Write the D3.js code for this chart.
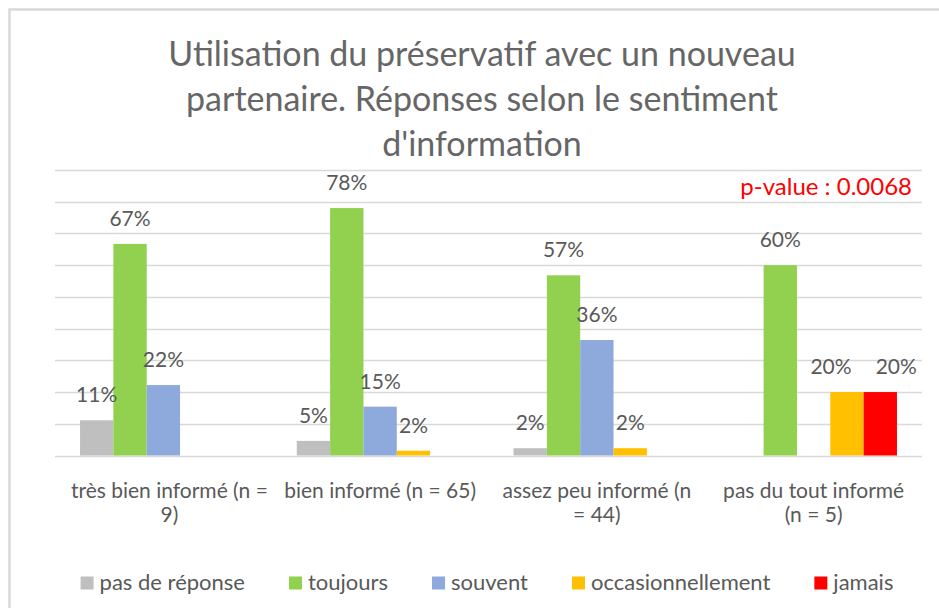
<!DOCTYPE html>
<html>
<head>
<meta charset="utf-8">
<script src="https://cdn.jsdelivr.net/npm/d3@7/dist/d3.min.js"></script>
<style>
  html, body { margin: 0; padding: 0; background: #ffffff; }
  svg { display: block; }
  text { font-family: Lato, "Open Sans", sans-serif; fill: #595959; }
</style>
</head>
<body>
<svg id="chart" width="939" height="608"></svg>
<script>
// ---- data ----
const titleLines = ["Utilisation du préservatif avec un nouveau", "partenaire. Réponses selon le sentiment", "d'information"];
const categories = ["très bien informé (n = 9)", "bien informé (n = 65)", "assez peu informé (n = 44)", "pas du tout informé (n = 5)"];
const categoryLines = [["très bien informé (n =", "9)"], ["bien informé (n = 65)"], ["assez peu informé (n", "= 44)"], ["pas du tout informé", "(n = 5)"]];
const seriesNames = ["pas de réponse", "toujours", "souvent", "occasionnellement", "jamais"];
const pasDeReponse = [0.111, 0.046, 0.023, null];
const toujours = [0.667, 0.78, 0.568, 0.60];
const souvent = [0.222, 0.154, 0.364, null];
const occasionnellement = [null, 0.015, 0.023, 0.20];
const jamais = [null, null, null, 0.20];
const gridTicks = [0, 0.1, 0.2, 0.3, 0.4, 0.5, 0.6, 0.7, 0.8, 0.9];
const pValueText = "p-value : 0.0068";

const seriesValues = [pasDeReponse, toujours, souvent, occasionnellement, jamais];
const colors = ["#BFBFBF", "#92D050", "#8EA9DB", "#FFC000", "#FF0000"];

// ---- layout ----
const svg = d3.select("#chart");
const plot = { left: 55, right: 922, top: 170, bottom: 455.5 };

// frame
svg.append("rect")
  .attr("x", 9.5).attr("y", 9.5)
  .attr("width", 960).attr("height", 640)
  .attr("fill", "#fff")
  .attr("stroke", "#d9d9d9").attr("stroke-width", 2.5);

const x0 = d3.scaleBand().domain(categories).range([plot.left, plot.right])
  .paddingInner(0.231).paddingOuter(0.1155);
const x1 = d3.scaleBand().domain(seriesNames).range([0, x0.bandwidth()]);
const y = d3.scaleLinear().domain([0, 0.9]).range([plot.bottom, plot.top]);

// gridlines
svg.append("g").selectAll("line").data(gridTicks).join("line")
  .attr("x1", plot.left).attr("x2", plot.right)
  .attr("y1", d => Math.round(y(d)) + 0.5).attr("y2", d => Math.round(y(d)) + 0.5)
  .attr("stroke", "#d9d9d9").attr("stroke-width", 1.3);

// title
svg.append("g").selectAll("text").data(titleLines).join("text")
  .attr("x", 482).attr("y", (d, i) => 66 + i * 45)
  .attr("text-anchor", "middle")
  .style("font-size", "34px").style("font-weight", 400).style("fill", "#666666")
  .text(d => d);

// p-value
svg.append("text")
  .attr("x", 912).attr("y", 195)
  .attr("text-anchor", "end")
  .style("font-size", "24px").style("fill", "#FF0000")
  .text(pValueText);

// bars
const cells = [];
categories.forEach((c, ci) => {
  seriesNames.forEach((s, si) => {
    const v = seriesValues[si][ci];
    if (v !== null && v !== undefined) cells.push({ c, ci, s, si, v });
  });
});

svg.append("g").selectAll("rect").data(cells).join("rect")
  .attr("x", d => x0(d.c) + x1(d.s))
  .attr("width", x1.bandwidth())
  .attr("y", d => y(d.v))
  .attr("height", d => y(0) - y(d.v))
  .attr("fill", d => colors[d.si]);

const fmt = d3.format(".0%");
const labels = svg.append("g").selectAll("text").data(cells).join("text")
  .attr("x", d => x0(d.c) + x1(d.s) + x1.bandwidth() / 2)
  .attr("y", d => y(d.v) - 18)
  .attr("text-anchor", "middle")
  .style("font-size", "21px")
  .text(d => fmt(d.v));

// resolve overlapping data labels at the same height: push them apart symmetrically
const nodes = labels.nodes();
for (let i = 1; i < nodes.length; i++) {
  const a = d3.select(nodes[i - 1]), b = d3.select(nodes[i]);
  const da = a.datum(), db = b.datum();
  if (da.ci !== db.ci || Math.abs(y(da.v) - y(db.v)) > 20) continue;
  const wa = nodes[i - 1].getComputedTextLength(), wb = nodes[i].getComputedTextLength();
  const xa = +a.attr("x"), xb = +b.attr("x");
  const need = (wa + wb) / 2 + 24;
  if (xb - xa < need) {
    const deficit = need - (xb - xa);
    a.attr("x", xa - deficit / 2);
    b.attr("x", xb + deficit / 2);
  }
}

// category labels
const catG = svg.append("g").selectAll("text").data(categories).join("text")
  .attr("text-anchor", "middle")
  .style("font-size", "21px");
catG.each(function (c, i) {
  const t = d3.select(this);
  categoryLines[i].forEach((line, li) => {
    t.append("tspan")
      .attr("x", x0(c) + x0.bandwidth() / 2 + (i === 0 ? 6 : 0))
      .attr("y", 498 + li * 24)
      .text(line);
  });
});

// legend
const legend = svg.append("g");
const items = legend.selectAll("g").data(seriesNames).join("g");
items.append("rect").attr("width", 13).attr("height", 13).attr("y", 576.5)
  .attr("fill", (d, i) => colors[i]);
items.append("text").attr("x", 19).attr("y", 589.5)
  .style("font-size", "22px").text(d => d);
let widths = [];
items.each(function () { widths.push(13 + 6 + d3.select(this).select("text").node().getComputedTextLength()); });
const gap = 44;
const total = d3.sum(widths) + gap * (widths.length - 1);
let cx = 487 - total / 2;
items.each(function (d, i) {
  d3.select(this).attr("transform", `translate(${cx},0)`);
  cx += widths[i] + gap;
});
</script>
</body>
</html>
